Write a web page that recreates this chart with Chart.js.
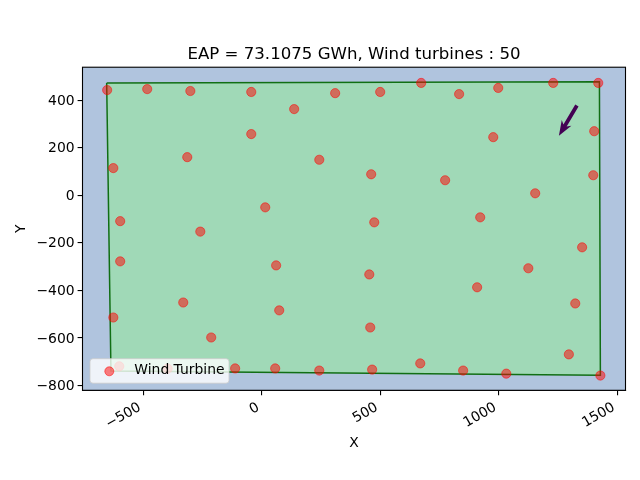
<!DOCTYPE html>
<html>
<head>
<meta charset="utf-8">
<style>html,body{margin:0;padding:0;background:#fff}canvas{display:block}</style>
<script src="https://cdn.jsdelivr.net/npm/chart.js@4"></script>
</head>
<body>
<canvas id="c" width="640" height="480"></canvas>
<script>
const titleText = 'EAP = 73.1075 GWh, Wind turbines : 50';
const seriesLabel = 'Wind Turbine';
const turbineX = [-653,-484,-302,-45,309,136,-45,-315,242,-627,14,-598,-260,
  499,672,832,997,1229,1419,1402,976,1398,461,773,1153,474,921,
  -598,60,-332,73,-627,-214,-602,-398,-113,56,242,
  1351,1124,453,908,1322,457,1295,668,465,849,1031,1428];
const turbineY = [442,446,438,434,429,362,257,160,149,114,-51,-109,-153,
  434,472,425,451,472,472,269,244,84,88,63,8,-114,-93,
  -278,-295,-451,-484,-514,-598,-719,-729,-728,-728,-737,
  -219,-307,-333,-387,-455,-556,-669,-707,-733,-737,-750,-758];
const boundaryX = [-655,1424,1428,-637,-655];
const boundaryY = [472,477,-757,-739,472];
const arrowX = [1329,1253];
const arrowY = [377,250];
const xTicks = [-500,0,500,1000,1500];
const yTicks = [-800,-600,-400,-200,0,200,400];
const FONT = '"DejaVu Sans"';

const zip = (xs, ys) => xs.map((x, i) => ({x, y: ys[i]}));
const fmt = v => String(v).replace('-', '\u2212');

function nudgeLabels(scale, dx, dy) {
  if (scale._nudged) return;
  scale._nudged = true;
  const orig = scale.drawLabels;
  scale.drawLabels = function (area) {
    const ctx = this.ctx;
    ctx.save();
    ctx.translate(dx, dy);
    orig.call(this, area);
    ctx.restore();
  };
}

const decor = {
  id: 'decor',
  beforeDatasetsDraw(chart) {
    const {ctx, chartArea: a} = chart;
    ctx.save();
    ctx.fillStyle = '#b0c4de';
    ctx.fillRect(a.left, a.top, a.width, a.height);
    ctx.restore();
  },
  afterDatasetsDraw(chart) {
    const {ctx, chartArea: a, scales} = chart;
    const x0 = scales.x.getPixelForValue(arrowX[0]), y0 = scales.y.getPixelForValue(arrowY[0]);
    const x1 = scales.x.getPixelForValue(arrowX[1]), y1 = scales.y.getPixelForValue(arrowY[1]);
    const L = Math.hypot(x1 - x0, y1 - y0), ux = (x1 - x0) / L, uy = (y1 - y0) / L, nx = -uy, ny = ux;
    const at = (d, s) => [x0 + ux * d + nx * s, y0 + uy * d + ny * s];
    const pts = [at(0,-1.9), at(L-12,-1.9), at(L-15,-5.6), at(L,0), at(L-15,5.6), at(L-12,1.9), at(0,1.9)];
    ctx.save();
    ctx.fillStyle = '#440154';
    ctx.beginPath();
    pts.forEach((p, i) => i ? ctx.lineTo(p[0], p[1]) : ctx.moveTo(p[0], p[1]));
    ctx.closePath();
    ctx.fill();
    ctx.strokeStyle = '#000';
    ctx.lineWidth = 1.1;
    ctx.strokeRect(a.left, a.top, a.width, a.height);
    ctx.beginPath();
    ctx.roundRect(90, 358.7, 139, 24.5, 3);
    ctx.fillStyle = 'rgba(255,255,255,0.8)';
    ctx.fill();
    ctx.strokeStyle = 'rgba(204,204,204,0.8)';
    ctx.lineWidth = 1;
    ctx.stroke();
    ctx.beginPath();
    ctx.arc(109.3, 371.3, 4.5, 0, Math.PI * 2);
    ctx.fillStyle = 'rgba(255,0,0,0.5)';
    ctx.fill();
    ctx.strokeStyle = 'rgba(255,0,0,0.5)';
    ctx.lineWidth = 1;
    ctx.stroke();
    ctx.fillStyle = '#000';
    ctx.font = '13.9px ' + FONT;
    ctx.textAlign = 'left';
    ctx.textBaseline = 'alphabetic';
    ctx.fillText(seriesLabel, 134.3, 374);
    ctx.restore();
  }
};

new Chart(document.getElementById('c'), {
  type: 'scatter',
  data: {
    datasets: [
      {
        type: 'line',
        label: 'Boundary',
        data: zip(boundaryX, boundaryY),
        fill: 'shape',
        backgroundColor: 'rgba(144,238,144,0.5)',
        borderColor: 'rgba(0,100,0,0.9)',
        borderWidth: 1.5,
        pointRadius: 0,
        tension: 0,
        order: 2
      },
      {
        label: seriesLabel,
        data: zip(turbineX, turbineY),
        backgroundColor: 'rgba(255,0,0,0.5)',
        borderColor: 'rgba(255,0,0,0.5)',
        borderWidth: 1,
        pointRadius: 4.6,
        clip: false,
        order: 1
      }
    ]
  },
  plugins: [decor],
  options: {
    responsive: false,
    animation: false,
    devicePixelRatio: 1,
    layout: {padding: {left: 0, right: 14.5, top: 0, bottom: 0}},
    plugins: {
      legend: {display: false},
      tooltip: {enabled: false},
      title: {
        display: true,
        fullSize: false,
        text: titleText,
        color: '#000',
        font: {family: FONT, size: 16.6, weight: 'normal', lineHeight: 1.2},
        padding: {top: 45, bottom: 2.3}
      }
    },
    scales: {
      x: {
        type: 'linear',
        min: -757,
        max: 1534,
        afterBuildTicks: s => { s.ticks = xTicks.map(value => ({value})); },
        afterFit: s => { s.height = 89.7; nudgeLabels(s, -3.5, 1); },
        grid: {drawOnChartArea: false, drawTicks: true, tickLength: 4.9, color: '#000', lineWidth: 1.1},
        border: {display: true, color: '#000', width: 1.1},
        ticks: {
          color: '#000', font: {family: FONT, size: 13.9}, padding: 3,
          autoSkip: false, minRotation: 30, maxRotation: 30,
          callback: v => fmt(v)
        },
        title: {display: true, text: 'X', color: '#000', font: {family: FONT, size: 13.9}, padding: {top: 0, bottom: 28}}
      },
      y: {
        type: 'linear',
        min: -820,
        max: 538,
        afterBuildTicks: s => { s.ticks = yTicks.map(value => ({value})); },
        afterFit: s => { s.width = 82.5; nudgeLabels(s, 0, 1); },
        grid: {drawOnChartArea: false, drawTicks: true, tickLength: 4.9, color: '#000', lineWidth: 1.1},
        border: {display: true, color: '#000', width: 1.1},
        ticks: {
          color: '#000', font: {family: FONT, size: 13.9}, padding: 3,
          autoSkip: false,
          callback: v => fmt(v)
        },
        title: {display: true, text: 'Y', color: '#000', font: {family: FONT, size: 13.9}, padding: {top: 13, bottom: 0}}
      }
    }
  }
});
</script>
</body>
</html>
